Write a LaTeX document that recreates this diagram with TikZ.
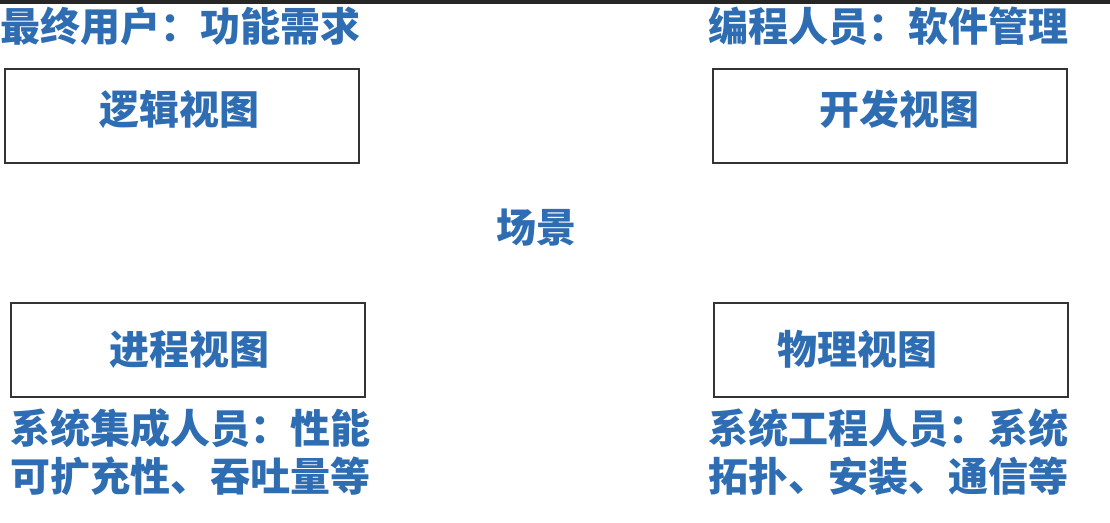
\documentclass[tikz,border=0pt]{standalone}
\usepackage{fontspec}
\newfontfamily\cjk{Noto Sans CJK SC}
\definecolor{viewblue}{HTML}{2F6DB3}
\definecolor{framegray}{HTML}{333333}
\tikzset{
  viewbox/.style={draw=framegray, line width=2pt, inner sep=0pt,
    minimum width=354pt, minimum height=94pt},
  viewtxt/.style={font=\cjk\bfseries\fontsize{40}{48}\selectfont, text=viewblue, inner sep=0pt},
  roletxt/.style={viewtxt, anchor=west, align=left}
}
\begin{document}
\begin{tikzpicture}[x=1pt, y=-1pt]
\useasboundingbox (0,0) rectangle (1110,522);
% screen edge
\fill[black!85] (0,0) rectangle (1110,4);

% The four views
\foreach \nm/\cx/\cy/\tx/\ty/\txt in {logic/182/115.5/179/109.5/逻辑视图, devel/890/115.5/899/109.5/开发视图, process/188/349.5/189/349/进程视图, physic/890.5/349.5/857.5/349/物理视图} {
    \node[viewbox] (\nm) at (\cx,\cy) {};
    \node[viewtxt] (\nm-txt) at (\tx,\ty) {\txt};
}

% Scenarios in the middle
\node[viewtxt] (scene) at (536,228) {场景};

% Stakeholders and concerns
\node[roletxt] (user) at (0,26) {最终用户：功能需求};
\node[roletxt] (coder) at (708,26) {编程人员：软件管理};
\node[roletxt] (integrator) at (10,452) {系统集成人员：性能\\可扩充性、吞吐量等};
\node[roletxt] (engineer) at (708,452) {系统工程人员：系统\\拓扑、安装、通信等};
\end{tikzpicture}
\end{document}
